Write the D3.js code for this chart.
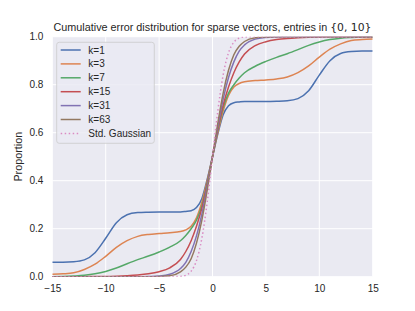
<!DOCTYPE html>
<html>
<head>
<meta charset="utf-8">
<script src="https://cdn.jsdelivr.net/npm/d3@7"></script>
<style>
body { margin: 0; background: #fff; }
text { font-family: "Liberation Sans", Arial, sans-serif; fill: #262626; }
</style>
</head>
<body>
<svg id="chart" width="415" height="311"></svg>
<script>
var xs = [-15,-14,-13,-12,-11,-10,-9,-8,-7,-6,-5,-4,-3,-2.5,-2,-1.5,-1,-0.5,0,
          0.5,1,1.5,2,2.5,3,4,5,6,7,8,9,10,11,12,13,14,15];

var k1  = [0.060,0.060,0.062,0.070,0.100,0.160,0.225,0.258,0.267,0.269,0.270,0.270,0.270,0.272,0.275,0.288,0.325,0.405,0.5,
           0.595,0.675,0.712,0.725,0.728,0.730,0.730,0.730,0.731,0.733,0.742,0.775,0.840,0.900,0.930,0.938,0.940,0.940];
var k3  = [0.010,0.012,0.016,0.030,0.052,0.085,0.122,0.150,0.168,0.176,0.180,0.183,0.188,0.195,0.210,0.245,0.310,0.400,0.5,
           0.600,0.690,0.755,0.790,0.805,0.812,0.817,0.820,0.824,0.832,0.850,0.878,0.915,0.948,0.970,0.984,0.988,0.990];
var k7  = [0.000,0.001,0.003,0.006,0.012,0.022,0.036,0.054,0.071,0.086,0.103,0.123,0.150,0.172,0.200,0.235,0.295,0.390,0.5,
           0.610,0.705,0.765,0.800,0.828,0.850,0.877,0.897,0.914,0.929,0.946,0.964,0.978,0.988,0.994,0.997,0.999,1.000];
var k15 = [0.000,0.000,0.000,0.000,0.001,0.001,0.002,0.004,0.007,0.012,0.021,0.037,0.072,0.105,0.150,0.210,0.285,0.385,0.5,
           0.615,0.715,0.790,0.850,0.895,0.928,0.963,0.979,0.988,0.993,0.996,0.998,0.999,1.000,1.000,1.000,1.000,1.000];
var k31 = [0.000,0.000,0.000,0.000,0.000,0.000,0.000,0.000,0.000,0.001,0.003,0.010,0.034,0.060,0.105,0.170,0.260,0.375,0.5,
           0.625,0.740,0.830,0.895,0.940,0.966,0.990,0.997,0.999,1.000,1.000,1.000,1.000,1.000,1.000,1.000,1.000,1.000];
var k63 = [0.000,0.000,0.000,0.000,0.000,0.000,0.000,0.000,0.000,0.000,0.001,0.004,0.020,0.040,0.075,0.140,0.235,0.360,0.5,
           0.640,0.765,0.860,0.925,0.960,0.980,0.996,0.999,1.000,1.000,1.000,1.000,1.000,1.000,1.000,1.000,1.000,1.000];
var gauss = [0,0,0,0,0,0,0,0,0,0,0,0,0.001,0.006,0.023,0.067,0.159,0.309,0.5,
             0.691,0.841,0.933,0.977,0.994,0.999,1,1,1,1,1,1,1,1,1,1,1,1];

var names  = ["k=1","k=3","k=7","k=15","k=31","k=63","Std. Gaussian"];
var colors = ["#4c72b0","#dd8452","#55a868","#c44e52","#8172b3","#937860","#da8bc3"];
var series = [k1, k3, k7, k15, k31, k63, gauss];

var xTicks = [-15,-10,-5,0,5,10,15];
var yTicks = [0,0.2,0.4,0.6,0.8,1.0];

var margin = {left: 52.3, right: 42.3, top: 36.7, bottom: 34.3};
var W = 415, H = 311;
var pw = W - margin.left - margin.right, ph = H - margin.top - margin.bottom;

var svg = d3.select("#chart");
var g = svg.append("g").attr("transform", "translate(" + margin.left + "," + margin.top + ")");

var x = d3.scaleLinear().domain([-15, 15]).range([0, pw]);
var y = d3.scaleLinear().domain([0, 1]).range([ph, 0]);

g.append("rect").attr("width", pw).attr("height", ph).attr("fill", "#eaeaf2");

svg.append("defs").append("clipPath").attr("id", "clip")
	.append("rect").attr("width", pw).attr("height", ph);

// grid
g.append("g").selectAll("line").data(xTicks).enter().append("line")
	.attr("x1", function(d){ return x(d); }).attr("x2", function(d){ return x(d); })
	.attr("y1", 0).attr("y2", ph)
	.attr("stroke", "#fff").attr("stroke-width", 1);
g.append("g").selectAll("line").data(yTicks).enter().append("line")
	.attr("y1", function(d){ return y(d); }).attr("y2", function(d){ return y(d); })
	.attr("x1", 0).attr("x2", pw)
	.attr("stroke", "#fff").attr("stroke-width", 1);

// axes
var fmtMinus = function(d){ return (d < 0 ? "\u2212" : "") + Math.abs(d); };
var xAxis = g.append("g").attr("transform", "translate(0," + ph + ")")
	.call(d3.axisBottom(x).tickValues(xTicks).tickSize(0).tickPadding(8).tickFormat(fmtMinus));
var yAxis = g.append("g")
	.call(d3.axisLeft(y).tickValues(yTicks).tickSize(0).tickPadding(9).tickFormat(d3.format(".1f")));
[xAxis, yAxis].forEach(function(a){
	a.select(".domain").remove();
	a.selectAll("text").attr("font-family", "Liberation Sans, Arial, sans-serif")
		.attr("font-size", "10px").attr("fill", "#262626");
});

// curves
var line = d3.line()
	.x(function(d, i){ return x(xs[i]); })
	.y(function(d){ return y(d); })
	.curve(d3.curveMonotoneX);

var plot = g.append("g").attr("clip-path", "url(#clip)");
for (var s = 0; s < series.length; s++){
	plot.append("path")
		.attr("d", line(series[s]))
		.attr("fill", "none")
		.attr("stroke", colors[s])
		.attr("stroke-width", 1.5)
		.attr("stroke-dasharray", s == 6 ? "1.5,2.5" : null);
}

// title
var title = svg.append("text")
	.attr("x", margin.left + pw/2).attr("y", 30.5)
	.attr("text-anchor", "middle")
	.attr("font-size", "10.8px");
title.append("tspan").text("Cumulative error distribution for sparse vectors, entries in ");
title.append("tspan").attr("font-family", "DejaVu Sans").text("{0, 10}");

// y label
svg.append("text")
	.attr("transform", "translate(21.5," + (margin.top + ph/2) + ") rotate(-90)")
	.attr("text-anchor", "middle")
	.attr("font-size", "10.8px")
	.text("Proportion");

// legend
var lg = g.append("g").attr("transform", "translate(4.4,5.6)");
lg.append("rect")
	.attr("width", 97.6).attr("height", 101).attr("rx", 2.5)
	.attr("fill", "#eaeaf2").attr("fill-opacity", 0.8)
	.attr("stroke", "#cccccc").attr("stroke-width", 0.8);
for (var i = 0; i < names.length; i++){
	var ry = 7.7 + i*13.9;
	lg.append("line")
		.attr("x1", 4).attr("x2", 24).attr("y1", ry).attr("y2", ry)
		.attr("stroke", colors[i]).attr("stroke-width", 1.5)
		.attr("stroke-dasharray", i == 6 ? "1.5,2.5" : null);
	lg.append("text")
		.attr("x", 31.6).attr("y", ry + 3.6)
		.attr("font-size", "10px")
		.text(names[i]);
}
</script>
</body>
</html>
